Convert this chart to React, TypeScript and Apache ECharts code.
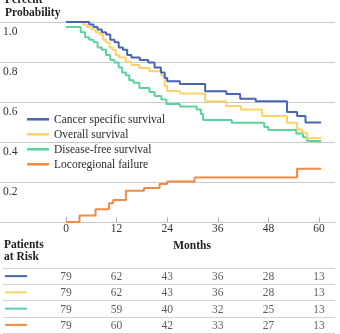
import React, { useEffect, useRef } from "react";
import * as echarts from "echarts";

// Kaplan–Meier style estimates: [month, probability]; the value holds from that month on.
const cancerSpecific: [number, number][] = [
  [0, 1.0], [5.5, 0.987], [6.5, 0.975], [7.5, 0.962], [8.5, 0.949], [9.5, 0.937],
  [10.5, 0.911], [11.5, 0.899], [12.5, 0.873], [13.5, 0.861], [14.5, 0.835],
  [15.5, 0.823], [17.5, 0.81], [19.5, 0.797], [21, 0.772], [22.5, 0.747],
  [23.4, 0.72], [24, 0.704], [27, 0.69], [33, 0.654], [38, 0.64], [41.3, 0.616],
  [45, 0.604], [52.4, 0.55], [54.8, 0.53], [56.8, 0.497], [60.5, 0.497],
];
const overall: [number, number][] = [
  [0, 1.0], [4, 0.987], [5, 0.975], [6, 0.962], [7, 0.949], [8, 0.937],
  [8.8, 0.911], [9.5, 0.899], [10.3, 0.873], [11, 0.861], [11.8, 0.835],
  [12.6, 0.823], [14.2, 0.8], [15.5, 0.785], [17.4, 0.77], [19.8, 0.754],
  [22.6, 0.73], [23.4, 0.68], [24, 0.655], [27, 0.642], [33, 0.604], [38, 0.58],
  [41.5, 0.563], [46.5, 0.53], [52.4, 0.496], [54.8, 0.463], [56, 0.446],
  [57.2, 0.42], [60.5, 0.42],
];
const diseaseFree: [number, number][] = [
  [0, 0.975], [3.5, 0.949], [4.5, 0.924], [5.5, 0.911], [6.5, 0.899], [7.5, 0.873],
  [8.5, 0.861], [9.5, 0.835], [10.5, 0.81], [11.5, 0.797], [12.5, 0.772],
  [13.3, 0.747], [14.2, 0.734], [15, 0.709], [16, 0.696], [17.4, 0.67],
  [19.8, 0.65], [21, 0.63], [22.6, 0.613], [23.8, 0.59], [27, 0.578], [31, 0.563],
  [32, 0.54], [32.5, 0.51], [39.3, 0.496], [47, 0.475], [48, 0.46], [54.6, 0.443],
  [56.2, 0.424], [57.2, 0.405], [60.5, 0.405],
];
// Cumulative incidence of locoregional failure
const locoregional: [number, number][] = [
  [0, 0], [3.2, 0.033], [7, 0.064], [10.2, 0.094], [11.2, 0.11], [14.2, 0.156],
  [18.5, 0.17], [22.2, 0.19], [24, 0.202], [30.5, 0.222], [54.8, 0.266], [60.5, 0.266],
];

const SERIES_NAMES = [
  "Cancer specific survival",
  "Overall survival",
  "Disease-free survival",
  "Locoregional failure",
];
const COLORS = ["#4765b3", "#fbd366", "#5ad39f", "#f38a44"];

const MONTH_TICKS = [0, 12, 24, 36, 48, 60];
const Y_TICK_LABELS = ["0.2", "0.4", "0.6", "0.8", "1.0"];

// Patients at risk at each month tick, one row per curve
const riskCancerSpecific = [79, 62, 43, 36, 28, 13];
const riskOverall = [79, 62, 43, 36, 28, 13];
const riskDiseaseFree = [79, 59, 40, 32, 25, 13];
const riskLocoregional = [79, 60, 42, 33, 27, 13];

const FONT = "'Liberation Serif', 'Times New Roman', serif";
const GRID_LINE = "#c9c9c9";

// Horizontal layout: month 0 sits at ZERO_PX, each month spans PX_PER_MONTH
const ZERO_PX = 66;
const PX_PER_MONTH = 4.217;
const RIGHT_EDGE = 335;
const xRange = (gridLeft: number) => ({
  min: -(ZERO_PX - gridLeft) / PX_PER_MONTH,
  max: (RIGHT_EDGE - ZERO_PX) / PX_PER_MONTH,
});

export default function App() {
  const ref = useRef<HTMLDivElement>(null);

  useEffect(() => {
    if (!ref.current) return;
    const chart = echarts.init(ref.current, null, { renderer: "svg" });

    const curves = [cancerSpecific, overall, diseaseFree, locoregional];
    const riskRows = [riskCancerSpecific, riskOverall, riskDiseaseFree, riskLocoregional];
    const rowKeys = ["r0", "r1", "r2", "r3"];

    const riskData: [number, number, number][] = [];
    riskRows.forEach((row, r) =>
      row.forEach((n, i) => riskData.push([MONTH_TICKS[i], r, n]))
    );

    const swatchRich: Record<string, any> = {};
    COLORS.forEach((c, i) => {
      swatchRich[rowKeys[i]] = { width: 22, height: 2, backgroundColor: c };
    });

    const mainRange = xRange(0);
    const tableRange = xRange(3);

    chart.setOption({
      animation: false,
      textStyle: { fontFamily: FONT },
      grid: [
        { left: 0, right: 340 - RIGHT_EDGE, top: 22, height: 200 },
        { left: 3, right: 340 - RIGHT_EDGE, top: 268, height: 65 },
      ],
      legend: {
        orient: "vertical",
        left: 27,
        top: 112.8,
        padding: 0,
        icon: "rect",
        itemWidth: 22,
        itemHeight: 2.5,
        itemGap: 2,
        data: SERIES_NAMES,
        textStyle: { fontFamily: FONT, fontSize: 11.5, color: "#2a2a2a", lineHeight: 13 },
      },
      xAxis: [
        {
          type: "value",
          gridIndex: 0,
          min: mainRange.min,
          max: mainRange.max,
          axisLine: { show: true, lineStyle: { color: GRID_LINE, width: 1 } },
          axisTick: {
            show: true,
            inside: true,
            length: 5,
            customValues: MONTH_TICKS,
            lineStyle: { color: "#b5b5b5" },
          },
          axisLabel: {
            customValues: MONTH_TICKS,
            fontFamily: FONT,
            fontSize: 11.5,
            color: "#333",
            margin: 0,
          },
          splitLine: { show: false },
        },
        {
          type: "value",
          gridIndex: 1,
          min: tableRange.min,
          max: tableRange.max,
          show: false,
        },
      ],
      yAxis: [
        {
          type: "value",
          gridIndex: 0,
          min: 0,
          max: 1,
          interval: 0.2,
          axisLine: { show: false },
          axisTick: { show: false },
          splitLine: { show: true, lineStyle: { color: GRID_LINE, width: 1 } },
          axisLabel: {
            inside: true,
            margin: 3,
            verticalAlign: "top",
            padding: [3, 0, 0, 0],
            fontFamily: FONT,
            fontSize: 11.5,
            color: "#333",
            formatter: (v: number) => {
              const s = v.toFixed(1);
              return Y_TICK_LABELS.includes(s) ? s : "";
            },
          },
        },
        {
          type: "category",
          gridIndex: 1,
          inverse: true,
          data: rowKeys,
          axisLine: { show: false },
          axisTick: { show: false },
          splitLine: { show: true, interval: 0, lineStyle: { color: "#d2d2d2", width: 1 } },
          axisLabel: {
            inside: true,
            margin: 2,
            formatter: (_v: string, i: number) => `{${rowKeys[i]}|}`,
            rich: swatchRich,
          },
        },
      ],
      graphic: [
        {
          type: "text",
          left: 5,
          top: -8,
          style: {
            text: "Percent\nProbability",
            font: `bold 11.5px ${FONT}`,
            lineHeight: 13,
            fill: "#222",
          },
        },
        {
          type: "text",
          left: 4,
          top: 238,
          style: {
            text: "Patients\nat Risk",
            font: `bold 11.5px ${FONT}`,
            lineHeight: 12,
            fill: "#222",
          },
        },
        {
          type: "text",
          x: 192,
          y: 245,
          style: {
            text: "Months",
            font: `bold 11.5px ${FONT}`,
            align: "center",
            verticalAlign: "middle",
            fill: "#222",
          },
        },
      ],
      series: [
        ...curves.map((d, i) => ({
          type: "line",
          name: SERIES_NAMES[i],
          xAxisIndex: 0,
          yAxisIndex: 0,
          data: d,
          step: "end",
          symbol: "none",
          z: i === 0 ? 6 : 5 - i,
          color: COLORS[i],
          lineStyle: { width: 2, color: COLORS[i] },
        })),
        {
          type: "scatter",
          xAxisIndex: 1,
          yAxisIndex: 1,
          data: riskData,
          symbolSize: 0,
          silent: true,
          label: {
            show: true,
            position: "inside",
            formatter: (p: any) => String(p.value[2]),
            fontFamily: FONT,
            fontSize: 11.5,
            color: "#333",
          },
        },
      ],
    });

    return () => chart.dispose();
  }, []);

  return (
    <div
      ref={ref}
      style={{ position: "fixed", left: 0, top: 0, width: 340, height: 334 }}
    />
  );
}
